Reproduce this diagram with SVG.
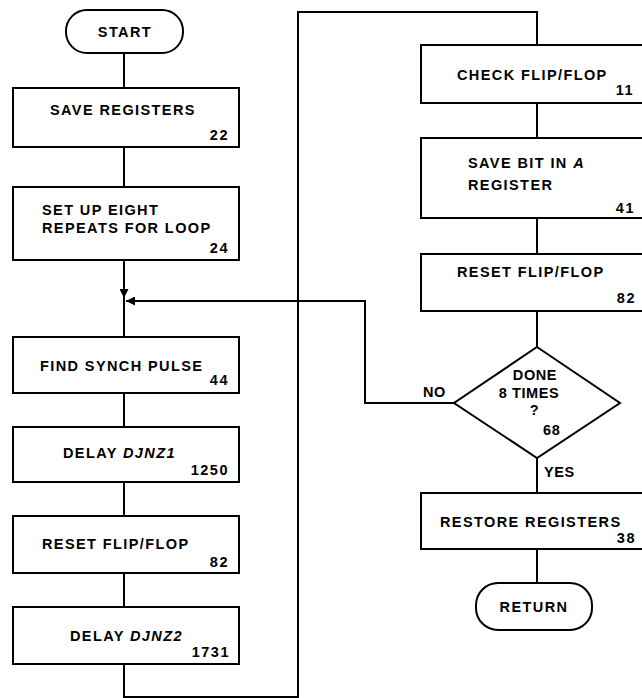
<svg xmlns="http://www.w3.org/2000/svg" width="642" height="698" viewBox="0 0 642 698">
<style>
.shape{fill:#fff;stroke:#000;stroke-width:2}
.conn{fill:none;stroke:#000;stroke-width:2}
text{font-family:"Liberation Sans",Arial,sans-serif;font-weight:bold;font-size:14.5px;fill:#000;letter-spacing:1.4px}
.num{letter-spacing:1.5px;text-anchor:end}
.mid{text-anchor:middle}
.it{font-style:italic}
.tight{letter-spacing:0.6px}
</style>
<defs>
<marker id="arrL" viewBox="0 0 10 10" refX="10" refY="5" markerWidth="12" markerHeight="9" orient="auto" markerUnits="userSpaceOnUse">
<path d="M0,0 L10,5 L0,10 Z" fill="#000"/>
</marker>
</defs>
<g id="connectors">
<path class="conn" d="M124,53 V88"/>
<path class="conn" d="M124,147 V187"/>
<path class="conn" d="M124,260 V298" marker-end="url(#arrL)"/>
<path class="conn" d="M124,298 V337"/>
<path class="conn" d="M124,393 V427"/>
<path class="conn" d="M124,482 V516"/>
<path class="conn" d="M124,573 V607"/>
<path class="conn" d="M124,664 V697 H298 V12 H537 V45"/>
<path class="conn" d="M537,103 V138"/>
<path class="conn" d="M537,218 V254"/>
<path class="conn" d="M537,311 V347"/>
<path class="conn" d="M454,403 H365 V301 H126" marker-end="url(#arrL)"/>
<path class="conn" d="M537,458 V493"/>
<path class="conn" d="M537,549 V583"/>
<text class="tight" x="423" y="397">NO</text>
<text class="tight" x="544" y="477">YES</text>
</g>
<g id="start">
<rect class="shape" x="66" y="10" width="117" height="43" rx="21"/>
<text class="mid" x="125" y="37">START</text>
</g>
<g id="save-registers">
<rect class="shape" x="13" y="88" width="226" height="59"/>
<text x="50" y="115">SAVE REGISTERS</text>
<text class="num" x="229" y="140">22</text>
</g>
<g id="set-up">
<rect class="shape" x="13" y="187" width="226" height="73"/>
<text x="42" y="215">SET UP EIGHT</text>
<text x="42" y="233">REPEATS FOR LOOP</text>
<text class="num" x="229" y="253">24</text>
</g>
<g id="find-synch">
<rect class="shape" x="13" y="337" width="226" height="56"/>
<text x="40" y="371">FIND SYNCH PULSE</text>
<text class="num" x="229" y="385">44</text>
</g>
<g id="delay1">
<rect class="shape" x="13" y="427" width="226" height="55"/>
<text x="63" y="458">DELAY <tspan class="it">DJNZ1</tspan></text>
<text class="num" x="229" y="475">1250</text>
</g>
<g id="reset-ff-left">
<rect class="shape" x="13" y="516" width="226" height="57"/>
<text x="42" y="549">RESET FLIP/FLOP</text>
<text class="num" x="229" y="567">82</text>
</g>
<g id="delay2">
<rect class="shape" x="13" y="607" width="226" height="57"/>
<text x="70" y="641">DELAY <tspan class="it">DJNZ2</tspan></text>
<text class="num" x="230" y="657">1731</text>
</g>
<g id="check-ff">
<rect class="shape" x="421" y="45" width="240" height="58"/>
<text x="457" y="80">CHECK FLIP/FLOP</text>
<text class="num" x="634" y="95">11</text>
</g>
<g id="save-bit">
<rect class="shape" x="421" y="138" width="240" height="80"/>
<text x="468" y="168">SAVE BIT IN <tspan class="it">A</tspan></text>
<text x="468" y="190">REGISTER</text>
<text class="num" x="635" y="213">41</text>
</g>
<g id="reset-ff-right">
<rect class="shape" x="421" y="254" width="240" height="57"/>
<text x="457" y="277">RESET FLIP/FLOP</text>
<text class="num" x="636" y="303">82</text>
</g>
<g id="done-8">
<polygon class="shape" points="537,347 620,403 537,458 454,403"/>
<text class="mid tight" x="535" y="380">DONE</text>
<text class="mid tight" x="529" y="398">8 TIMES</text>
<text class="mid" x="535" y="415">?</text>
<text class="tight" x="543" y="435">68</text>
</g>
<g id="restore">
<rect class="shape" x="421" y="493" width="240" height="56"/>
<text x="440" y="527">RESTORE REGISTERS</text>
<text class="num" x="636" y="543">38</text>
</g>
<g id="return">
<rect class="shape" x="476" y="583" width="116" height="47" rx="22"/>
<text class="mid" x="534" y="612">RETURN</text>
</g>
</svg>
